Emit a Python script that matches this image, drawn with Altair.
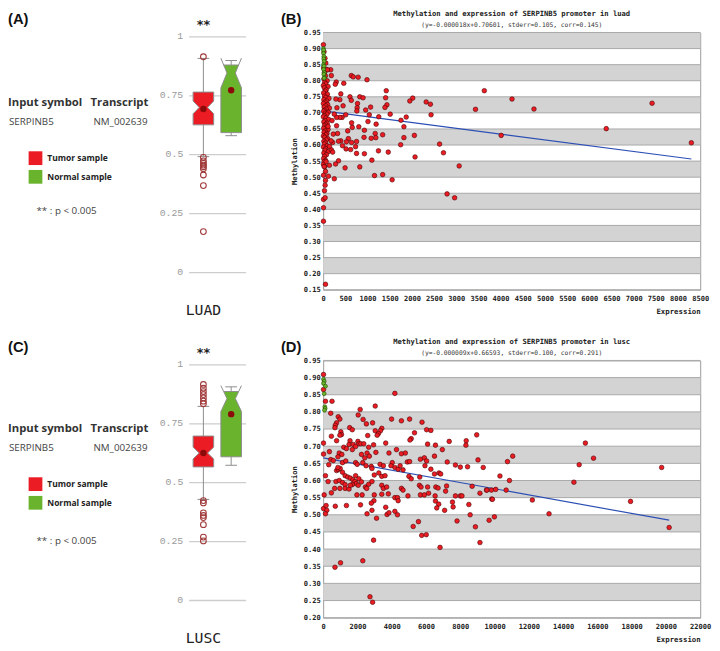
import altair as alt
import pandas as pd

# ---------------------------------------------------------------- data
GROUPS = ["Tumor sample", "Normal sample"]
GROUP_COLORS = ["#ec1c24", "#6ab42d"]
BOX_CENTERS = [1, 2]

info_headers = ["Input symbol", "Transcript"]
info_values = ["SERPINB5", "NM_002639"]
p_note = "** : p < 0.005"
panel_tags = ["(A)", "(B)", "(C)", "(D)"]
cohorts = ["LUAD", "LUSC"]
signif = "**"

# LUAD box statistics  [tumor, normal]
luad_q1 = [0.623, 0.590]
luad_med = [0.697, 0.843]
luad_q3 = [0.762, 0.877]
luad_notch_lo = [0.670, 0.780]
luad_notch_hi = [0.724, 0.906]
luad_mean = [0.690, 0.770]
luad_whisk_lo = [0.488, 0.577]
luad_whisk_hi = [0.905, 0.896]
luad_outliers = [0.912, 0.485, 0.470, 0.460, 0.452, 0.445, 0.437, 0.410, 0.365, 0.170]

# LUSC box statistics  [tumor, normal]
lusc_q1 = [0.563, 0.606]
lusc_med = [0.622, 0.853]
lusc_q3 = [0.694, 0.883]
lusc_notch_lo = [0.597, 0.798]
lusc_notch_hi = [0.647, 0.908]
lusc_mean = [0.622, 0.787]
lusc_whisk_lo = [0.425, 0.570]
lusc_whisk_hi = [0.820, 0.903]
lusc_outliers = [0.913, 0.897, 0.883, 0.870, 0.856, 0.842, 0.831,
                 0.420, 0.410, 0.368, 0.357, 0.348, 0.318, 0.265, 0.249]

# LUAD scatter (expression, methylation)
luad_tumor = [
    (5, 0.912), (20, 0.89), (40, 0.87), (60, 0.855), (10, 0.84), (75, 0.835), (30, 0.825), (50, 0.815),
    (15, 0.805), (90, 0.80), (35, 0.795), (60, 0.79), (5, 0.785), (110, 0.782), (25, 0.778), (70, 0.772),
    (45, 0.768), (10, 0.762), (95, 0.758), (30, 0.752), (60, 0.748), (130, 0.745), (15, 0.741), (80, 0.737),
    (40, 0.733), (5, 0.729), (100, 0.726), (55, 0.722), (20, 0.718), (140, 0.715), (70, 0.712), (35, 0.708),
    (10, 0.705), (115, 0.702), (50, 0.699), (85, 0.696), (25, 0.692), (5, 0.688), (65, 0.684), (120, 0.68),
    (40, 0.676), (15, 0.672), (90, 0.668), (55, 0.664), (30, 0.66), (75, 0.656), (10, 0.652), (110, 0.648),
    (45, 0.644), (20, 0.64), (85, 0.636), (60, 0.632), (5, 0.628), (35, 0.624), (100, 0.62), (70, 0.616),
    (15, 0.612), (50, 0.607), (25, 0.603), (90, 0.598), (5, 0.594), (60, 0.589), (40, 0.584), (120, 0.58),
    (15, 0.575), (75, 0.57), (30, 0.565), (10, 0.558), (55, 0.552), (20, 0.548), (5, 0.54), (35, 0.533),
    (66, 0.548), (22, 0.533), (52, 0.518), (7, 0.506), (52, 0.49), (44, 0.475), (29, 0.458), (7, 0.431),
    (44, 0.436), (7, 0.405), (7, 0.363), (52, 0.167),
    (634, 0.816), (678, 0.812), (789, 0.811), (988, 0.803), (464, 0.792), (1422, 0.769), (1408, 0.747),
    (1437, 0.725), (1393, 0.717), (2019, 0.746), (1953, 0.737), (2322, 0.734), (2417, 0.727), (2432, 0.694),
    (3434, 0.711), (3633, 0.769), (604, 0.75), (634, 0.739), (825, 0.75), (899, 0.747), (774, 0.729),
    (766, 0.716), (759, 0.706), (958, 0.709), (1069, 0.718), (1040, 0.694), (1253, 0.688), (1511, 0.696),
    (1754, 0.677), (1872, 0.687), (1820, 0.657), (2056, 0.63), (1820, 0.623), (1010, 0.673), (1194, 0.665),
    (803, 0.657), (929, 0.646), (1172, 0.636), (1341, 0.632), (1187, 0.623), (1083, 0.621), (921, 0.624),
    (656, 0.655), (553, 0.644), (641, 0.669), (568, 0.62), (752, 0.611), (641, 0.608), (730, 0.595),
    (619, 0.586), (752, 0.574), (929, 0.573), (1246, 0.582), (1467, 0.578), (1098, 0.553), (825, 0.532),
    (494, 0.529), (1157, 0.505), (1341, 0.508), (1555, 0.492), (1747, 0.601), (2071, 0.563), (2624, 0.603),
    (2712, 0.576), (3066, 0.535), (2793, 0.448), (2963, 0.436), (516, 0.588), (523, 0.61), (435, 0.598),
    (346, 0.551), (280, 0.541), (251, 0.495), (140, 0.537), (118, 0.503), (427, 0.686), (376, 0.686),
    (302, 0.686), (508, 0.694), (449, 0.722), (376, 0.741), (287, 0.743), (398, 0.759), (295, 0.796),
    (273, 0.789), (184, 0.816), (170, 0.834), (96, 0.834), (310, 0.716), (251, 0.696), (199, 0.676),
    (302, 0.66), (324, 0.636), (398, 0.613), (346, 0.612), (214, 0.608), (184, 0.585), (214, 0.578),
    (140, 0.596), (228, 0.634), (177, 0.613), (111, 0.658),
    (4257, 0.743), (4752, 0.712), (4013, 0.630), (6382, 0.651), (7415, 0.730), (8300, 0.607),
]
luad_normal = [(5, 0.90), (10, 0.895), (8, 0.885), (15, 0.875), (12, 0.868), (20, 0.86), (6, 0.85),
               (18, 0.845), (10, 0.835), (25, 0.825), (14, 0.82), (30, 0.81), (20, 0.808)]

# LUSC scatter (expression, methylation)
lusc_tumor = [
    (19, 0.909), (19, 0.865), (134, 0.831), (516, 0.831), (440, 0.796), (4183, 0.854), (2158, 0.807),
    (3037, 0.817), (2044, 0.791), (879, 0.786), (974, 0.779), (783, 0.768), (707, 0.761), (688, 0.754),
    (2330, 0.778), (2521, 0.765), (2884, 0.768), (3992, 0.779), (4565, 0.774), (5042, 0.779), (5768, 0.77),
    (6035, 0.748), (6283, 0.746), (1547, 0.754), (1700, 0.748), (3419, 0.752), (3343, 0.745), (3037, 0.745),
    (5329, 0.739), (478, 0.729), (1031, 0.742), (1070, 0.734), (974, 0.732), (2598, 0.731), (3228, 0.737),
    (3152, 0.732), (8958, 0.733), (783, 0.716), (1566, 0.716), (2025, 0.714), (2082, 0.707), (19, 0.709),
    (1509, 0.705), (1757, 0.705), (1891, 0.699), (2197, 0.707), (2369, 0.707), (2655, 0.697), (2941, 0.704),
    (1203, 0.697), (1356, 0.693), (1700, 0.69), (3648, 0.709), (5138, 0.722), (5062, 0.718), (6093, 0.706),
    (6551, 0.703), (7354, 0.714), (8347, 0.716), (8328, 0.703), (6952, 0.69), (19, 0.677), (363, 0.684),
    (936, 0.68), (1089, 0.676), (860, 0.669), (2559, 0.68), (2693, 0.671), (2235, 0.676), (2426, 0.666),
    (3075, 0.682), (3839, 0.68), (4565, 0.678), (4794, 0.68), (4278, 0.69), (5673, 0.662), (5902, 0.666),
    (6035, 0.657), (6494, 0.671), (440, 0.661), (592, 0.658), (325, 0.646), (1127, 0.652), (1318, 0.657),
    (1891, 0.652), (1986, 0.647), (2311, 0.652), (2502, 0.643), (2808, 0.641), (2846, 0.635), (3323, 0.647),
    (3514, 0.643), (4030, 0.652), (4183, 0.638), (4374, 0.633), (3954, 0.643), (4489, 0.643), (4660, 0.631),
    (4908, 0.654), (5042, 0.655), (5940, 0.643), (6283, 0.633), (6494, 0.619), (6761, 0.622), (6857, 0.619),
    (7239, 0.654), (7716, 0.645), (8003, 0.639), (8423, 0.64), (9034, 0.66), (9339, 0.638), (134, 0.614),
    (783, 0.629), (879, 0.632), (993, 0.635), (860, 0.638), (1127, 0.624), (1280, 0.614), (1433, 0.61),
    (1585, 0.607), (1891, 0.614), (2082, 0.605), (2235, 0.596), (2980, 0.616), (3247, 0.622), (3419, 0.612),
    (3610, 0.614), (5004, 0.612), (5138, 0.605), (5635, 0.61), (287, 0.597), (745, 0.597), (936, 0.6),
    (1127, 0.594), (1280, 0.588), (1738, 0.602), (1853, 0.597), (1929, 0.591), (2044, 0.586), (1700, 0.588),
    (2464, 0.581), (2655, 0.589), (2846, 0.597), (3419, 0.586), (3514, 0.577), (3705, 0.581), (4565, 0.577),
    (4660, 0.572), (5616, 0.586), (5711, 0.581), (6093, 0.581), (6570, 0.581), (6704, 0.578), (7201, 0.584),
    (7144, 0.569), (8691, 0.583), (9148, 0.563), (9530, 0.572), (9817, 0.572), (9836, 0.546), (57, 0.558),
    (478, 0.564), (669, 0.577), (974, 0.577), (1280, 0.577), (1509, 0.575), (1585, 0.586), (1967, 0.558),
    (2273, 0.558), (2540, 0.577), (2980, 0.558), (2961, 0.541), (2808, 0.534), (3419, 0.56), (3801, 0.561),
    (4183, 0.55), (4336, 0.55), (4374, 0.541), (4947, 0.555), (5673, 0.558), (5902, 0.558), (6150, 0.563),
    (6532, 0.555), (6551, 0.54), (6742, 0.531), (7716, 0.555), (8003, 0.555), (8098, 0.555), (19, 0.518),
    (172, 0.527), (210, 0.513), (134, 0.503), (707, 0.525), (1356, 0.527), (2178, 0.529), (2559, 0.503),
    (2846, 0.513), (3114, 0.49), (3648, 0.522), (3725, 0.501), (3839, 0.506), (4183, 0.51), (4336, 0.5),
    (5253, 0.466), (5559, 0.48), (5749, 0.44), (6016, 0.442), (6627, 0.52), (7087, 0.513), (7582, 0.523),
    (7544, 0.537), (7812, 0.482), (8500, 0.53), (8576, 0.5), (8882, 0.465), (9148, 0.419), (6819, 0.405),
    (2941, 0.426), (2311, 0.366), (1012, 0.36), (688, 0.347), (2731, 0.261), (2884, 0.245),
    (15299, 0.709), (10753, 0.655), (11059, 0.671), (14938, 0.646), (15775, 0.665), (19749, 0.638),
    (10314, 0.613), (10868, 0.6), (14630, 0.595), (9550, 0.572), (10066, 0.574), (10677, 0.572),
    (9875, 0.545), (12205, 0.543), (13179, 0.503), (9683, 0.484), (9990, 0.494), (17935, 0.539),
    (20188, 0.463),
]
lusc_normal = [(19, 0.895), (57, 0.889), (19, 0.883), (134, 0.875), (57, 0.853), (95, 0.815),
               (115, 0.81), (76, 0.805)]

# regression fits shown in the subtitles
luad_fit = {"slope": -0.000018, "intercept": 0.70601, "x_end": 8300}
lusc_fit = {"slope": -0.000009, "intercept": 0.66593, "x_end": 20188}

luad_title = "Methylation and expression of SERPINB5 promoter  in luad"
luad_subtitle = "(y=-0.000018x+0.70601, stderr=0.105, corr=0.145)"
lusc_title = "Methylation and expression of SERPINB5 promoter  in lusc"
lusc_subtitle = "(y=-0.000009x+0.66593, stderr=0.100, corr=0.291)"

luad_xticks = [0, 500, 1000, 1500, 2000, 2500, 3000, 3500, 4000, 4500, 5000, 5500, 6000,
               6500, 7000, 7500, 8000, 8500]
lusc_xticks = [0, 2000, 4000, 6000, 8000, 10000, 12000, 14000, 16000, 18000, 20000, 22000]
luad_yticks = [0.15, 0.20, 0.25, 0.30, 0.35, 0.40, 0.45, 0.50, 0.55, 0.60, 0.65, 0.70,
               0.75, 0.80, 0.85, 0.90, 0.95]
lusc_yticks = [0.20, 0.25, 0.30, 0.35, 0.40, 0.45, 0.50, 0.55, 0.60, 0.65, 0.70,
               0.75, 0.80, 0.85, 0.90, 0.95]
luad_gray_bands = [0.20, 0.30, 0.40, 0.50, 0.60, 0.70, 0.80, 0.90]
lusc_gray_bands = [0.25, 0.35, 0.45, 0.55, 0.65, 0.75, 0.85]
box_ticks = [0, 0.25, 0.5, 0.75, 1]

# ---------------------------------------------------------------- styling
INFO_W = 105
BOX_W, BOX_H = 58, 262
SC_W, SC_H = 384, 262
SC_TAG_X = 94          # "(B)"/"(D)" tag position, measured from the box panel origin
TAG_Y = -21
BOXLINE = "#8c8c8c"
MEAN_C = "#8b0a0a"
OUTL_C = "#a13a3a"
HW, NW, CAP = 0.37, 0.15, 0.21
MONO = "DejaVu Sans Mono"
SANS = "Open Sans"

color_scale = alt.Scale(domain=GROUPS, range=GROUP_COLORS)


def text_layer(t, x, y, size, weight="normal", color="#333", font=SANS, align="left",
               baseline="middle"):
    return alt.Chart(pd.DataFrame({"t": [t]})).mark_text(
        align=align, baseline=baseline, fontSize=size, fontWeight=weight, color=color, font=font
    ).encode(text="t:N", x=alt.value(x), y=alt.value(y))


def info_panel(tag, y_head, y_val, y_leg, y_p):
    ys = alt.Scale(type="point", domain=GROUPS, range=y_leg, padding=0)
    leg = pd.DataFrame({"g": GROUPS})
    squares = alt.Chart(leg).mark_square(size=196, opacity=1).encode(
        x=alt.value(28), y=alt.Y("g:N", scale=ys, axis=None),
        color=alt.Color("g:N", scale=color_scale, legend=None))
    labels = alt.Chart(leg).mark_text(align="left", baseline="middle", fontSize=8.6,
                                      fontWeight="bold", font=SANS, color="#222").encode(
        x=alt.value(40), y=alt.Y("g:N", scale=ys, axis=None), text="g:N")
    return alt.layer(
        text_layer(tag, 0, TAG_Y, 15, "bold", "#111", "Liberation Sans", baseline="top"),
        text_layer(info_headers[0], 0, y_head, 11.5, "bold", "#333"),
        text_layer(info_headers[1], 84, y_head, 11.5, "bold", "#333"),
        text_layer(info_values[0], 1, y_val, 10, "normal", "#444"),
        text_layer(info_values[1], 87, y_val, 10, "normal", "#444"),
        squares, labels,
        text_layer(p_note, 29, y_p, 10, "normal", "#444"),
    ).properties(width=INFO_W, height=BOX_H, view=alt.ViewBackground(stroke=None))


def profile(y, med, nlo, nhi):
    if y <= nlo or y >= nhi:
        return HW
    if y <= med:
        return NW + (HW - NW) * (med - y) / (med - nlo)
    return NW + (HW - NW) * (y - med) / (nhi - med)


def box_panel(q1, med, q3, nlo, nhi, mean, wlo, whi, outliers, cohort, sc_tag):
    xs = alt.Scale(domain=[0.47, 2.52], nice=False, zero=False)
    ysc = alt.Scale(domain=[-0.077, 1.015], nice=False, zero=False)
    stats = pd.DataFrame({"g": GROUPS, "c": BOX_CENTERS, "wlo": wlo, "whi": whi, "mean": mean})
    cap_rows, poly_rows, ear_rows = [], [], []
    for i, g in enumerate(GROUPS):
        c = BOX_CENTERS[i]
        for v in (wlo[i], whi[i]):
            cap_rows.append({"xl": c - CAP, "xr": c + CAP, "y": v})
        ys_ = sorted({q1[i], q3[i], med[i], nlo[i], nhi[i]})
        for y in ys_:
            if q1[i] <= y <= q3[i]:
                w = profile(y, med[i], nlo[i], nhi[i])
                poly_rows.append({"g": g, "y": y, "xl": c - w, "xr": c + w})
        if nhi[i] > q3[i]:
            w = profile(q3[i], med[i], nlo[i], nhi[i])
            for s in (-1, 1):
                ear_rows.append({"x": c + s * w, "x2": c + s * HW, "y": q3[i], "y2": nhi[i]})
        if nlo[i] < q1[i]:
            w = profile(q1[i], med[i], nlo[i], nhi[i])
            for s in (-1, 1):
                ear_rows.append({"x": c + s * w, "x2": c + s * HW, "y": q1[i], "y2": nlo[i]})
    yaxis = alt.Axis(values=box_ticks, labelExpr="toString(datum.value)", grid=True,
                     gridColor="#cdcdcd", gridWidth=1.3, domain=False, ticks=False,
                     labelColor="#9a9a9a", labelFont="Liberation Mono", labelFontSize=10,
                     labelPadding=6, title=None)
    whisk = alt.Chart(stats).mark_rule(color=BOXLINE, strokeWidth=1).encode(
        x=alt.X("c:Q", scale=xs, axis=None), y=alt.Y("wlo:Q", scale=ysc, axis=yaxis), y2="whi:Q")
    caps = alt.Chart(pd.DataFrame(cap_rows)).mark_rule(color=BOXLINE, strokeWidth=1).encode(
        x=alt.X("xl:Q", scale=xs, axis=None), x2="xr:Q", y=alt.Y("y:Q", scale=ysc, axis=None))
    box = alt.Chart(pd.DataFrame(poly_rows)).mark_area(
        orient="horizontal", stroke=BOXLINE, strokeWidth=1, opacity=1).encode(
        y=alt.Y("y:Q", scale=ysc, axis=None),
        x=alt.X("xl:Q", scale=xs, axis=None, stack=None), x2="xr:Q",
        color=alt.Color("g:N", scale=color_scale, legend=None))
    layers = [whisk, caps, box]
    if ear_rows:
        layers.append(alt.Chart(pd.DataFrame(ear_rows)).mark_rule(color=BOXLINE, strokeWidth=1).encode(
            x=alt.X("x:Q", scale=xs, axis=None), x2="x2:Q",
            y=alt.Y("y:Q", scale=ysc, axis=None), y2="y2:Q"))
    outl = alt.Chart(pd.DataFrame({"c": BOX_CENTERS[0], "v": outliers})).mark_point(
        shape="circle", filled=False, color=OUTL_C, size=34, strokeWidth=1.1, opacity=1).encode(
        x=alt.X("c:Q", scale=xs, axis=None), y=alt.Y("v:Q", scale=ysc, axis=None))
    means = alt.Chart(stats).mark_circle(color=MEAN_C, size=42, opacity=1).encode(
        x=alt.X("c:Q", scale=xs, axis=None), y=alt.Y("mean:Q", scale=ysc, axis=None))
    lab = pd.DataFrame({"c": [BOX_CENTERS[0]], "s": [signif], "k": [cohort]})
    star = alt.Chart(lab).mark_text(fontSize=13, fontWeight="bold", color="#222", font="DejaVu Sans",
                                    baseline="middle").encode(
        x=alt.X("c:Q", scale=xs, axis=None), y=alt.value(-8), text="s:N")
    coh = alt.Chart(lab).mark_text(fontSize=15, color="#222", font=MONO, baseline="middle").encode(
        x=alt.X("c:Q", scale=xs, axis=None), y=alt.value(283), text="k:N")
    tag_l = text_layer(sc_tag, SC_TAG_X, TAG_Y, 15, "bold", "#111", "Liberation Sans", baseline="top")
    layers += [outl, means, star, coh, tag_l]
    return alt.layer(*layers).resolve_axis(x="independent", y="independent").properties(
        width=BOX_W, height=BOX_H, view=alt.ViewBackground(stroke=None))


def scatter_panel(tumor, normal, fit, xticks, yticks, gray_bands, title, subtitle):
    xs = alt.Scale(domain=[xticks[0], xticks[-1]], nice=False, zero=False)
    ysc = alt.Scale(domain=[yticks[0], yticks[-1]], nice=False, zero=False)
    bands = alt.Chart(pd.DataFrame({"lo": gray_bands, "hi": [b + 0.05 for b in gray_bands]})).mark_rect(
        color="#d3d3d3").encode(
        y=alt.Y("lo:Q", scale=ysc, axis=None), y2="hi:Q", x=alt.value(0), x2=alt.value(SC_W))
    yaxis = alt.Axis(values=yticks, format=".2f", grid=False, domain=False, ticks=False,
                     labelFont=MONO, labelFontSize=7.2, labelFontWeight="bold", labelColor="#222",
                     labelPadding=3, title="Methylation", titleFont=MONO, titleFontSize=7.2,
                     titleFontWeight="bold", titleColor="#222", titlePadding=5)
    grid = alt.Chart(pd.DataFrame({"v": yticks})).mark_rule(color="#a8a8a8", strokeWidth=1).encode(
        y=alt.Y("v:Q", scale=ysc, axis=yaxis), x=alt.value(0), x2=alt.value(SC_W))
    line = alt.Chart(pd.DataFrame({"x": [0, fit["x_end"]]})).transform_calculate(
        y=f"{fit['intercept']} + ({fit['slope']}) * datum.x").mark_line(
        color="#2d4fb5", strokeWidth=1.2).encode(
        x=alt.X("x:Q", scale=xs, axis=None), y=alt.Y("y:Q", scale=ysc, axis=None))
    xaxis = alt.Axis(values=xticks, format="d", grid=False, domain=False, ticks=False,
                     labelFont=MONO, labelFontSize=7.2, labelFontWeight="bold", labelColor="#222",
                     labelPadding=5, labelFlush=False, title="Expression", titleFont=MONO,
                     titleFontSize=7.5, titleFontWeight="bold", titleColor="#222",
                     titleAnchor="end", titlePadding=6)
    tdf = pd.DataFrame(tumor, columns=["x", "y"])
    ndf = pd.DataFrame(normal, columns=["x", "y"])
    red = alt.Chart(tdf).mark_circle(fill=GROUP_COLORS[0], stroke="#4a0000", strokeWidth=0.6,
                                     size=22, opacity=1).encode(
        x=alt.X("x:Q", scale=xs, axis=xaxis), y=alt.Y("y:Q", scale=ysc, axis=None))
    green = alt.Chart(ndf).mark_circle(fill=GROUP_COLORS[1], stroke="#1f4a00", strokeWidth=0.6,
                                       size=16, opacity=1).encode(
        x=alt.X("x:Q", scale=xs, axis=None), y=alt.Y("y:Q", scale=ysc, axis=None))
    return alt.layer(bands, grid, line, red, green).resolve_axis(
        x="independent", y="independent").properties(
        width=SC_W, height=SC_H,
        view=alt.ViewBackground(stroke="#9a9a9a", strokeWidth=1),
        title=alt.TitleParams(text=title, subtitle=subtitle, font=MONO, fontSize=7.3,
                              fontWeight="bold", color="#222", subtitleFont=MONO,
                              subtitleFontSize=6.4, subtitleColor="#333", subtitlePadding=5,
                              anchor="middle", offset=0, frame="group"))


infoA = info_panel(panel_tags[0], 72, 91, [128, 147], 182)
boxA = box_panel(luad_q1, luad_med, luad_q3, luad_notch_lo, luad_notch_hi, luad_mean,
                 luad_whisk_lo, luad_whisk_hi, luad_outliers, cohorts[0], panel_tags[1])
scB = scatter_panel(luad_tumor, luad_normal, luad_fit, luad_xticks, luad_yticks, luad_gray_bands,
                    luad_title, luad_subtitle)
infoC = info_panel(panel_tags[2], 70, 89, [126, 145], 184)
boxC = box_panel(lusc_q1, lusc_med, lusc_q3, lusc_notch_lo, lusc_notch_hi, lusc_mean,
                 lusc_whisk_lo, lusc_whisk_hi, lusc_outliers, cohorts[1], panel_tags[3])
scD = scatter_panel(lusc_tumor, lusc_normal, lusc_fit, lusc_xticks, lusc_yticks, lusc_gray_bands,
                    lusc_title, lusc_subtitle)

chart = alt.concat(infoA, boxA, scB, infoC, boxC, scD, columns=3,
                   spacing={"row": 72, "column": 79}, bounds="flush", align="each").properties(
    padding={"top": -5, "left": 0, "right": 0, "bottom": 0},
    background="white").configure_view(stroke=None)

chart.save("out.html", embed_options={"renderer": "svg", "actions": False})
